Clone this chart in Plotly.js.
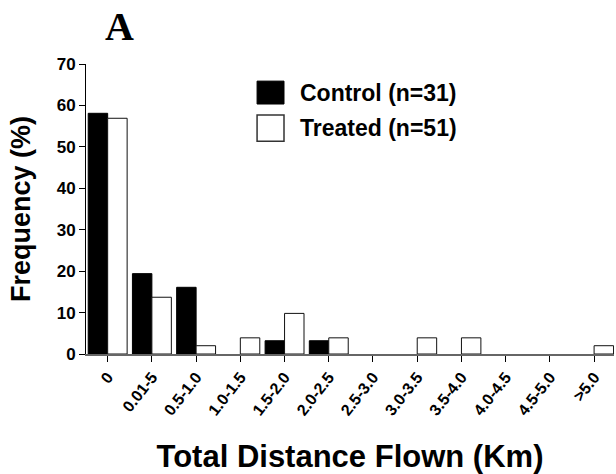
<!DOCTYPE html>
<html>
<head>
<meta charset="utf-8">
<script src="https://cdn.plot.ly/plotly-3.0.1.min.js"></script>
<style>html,body{margin:0;padding:0;background:#fff;}#chart{width:616px;height:474px;}</style>
</head>
<body>
<div id="chart"></div>
<script>
const categories = ["0", "0.01-5", "0.5-1.0", "1.0-1.5", "1.5-2.0", "2.0-2.5", "2.5-3.0", "3.0-3.5", "3.5-4.0", "4.0-4.5", "4.5-5.0", ">5.0"];
const controlValues = [58.1, 19.4, 16.1, 0, 3.2, 3.2, 0, 0, 0, 0, 0, 0];
const treatedValues = [56.9, 13.7, 2.0, 3.9, 9.8, 3.9, 0, 3.9, 3.9, 0, 0, 2.0];
const controlName = "Control (n=31)";
const treatedName = "Treated (n=51)";
const yTicks = [0, 10, 20, 30, 40, 50, 60, 70];

const font = "Liberation Sans, Arial, Helvetica, sans-serif";
// zero-height bars are not drawn in the reference
const hideZero = arr => arr.map(v => (v === 0 ? null : v));

const traces = [
  {type: "bar", name: controlName, x: categories, y: hideZero(controlValues),
   marker: {color: "#000", line: {color: "#000", width: 1}}, showlegend: false},
  {type: "bar", name: treatedName, x: categories, y: hideZero(treatedValues),
   marker: {color: "#fff", line: {color: "#111", width: 1}}, showlegend: false}
];

const layout = {
  width: 616, height: 474,
  margin: {l: 86, r: 2, t: 64, b: 120},
  paper_bgcolor: "#fff", plot_bgcolor: "#fff",
  barmode: "group", bargap: 0.12, bargroupgap: 0,
  font: {family: font, color: "#000"},
  xaxis: {
    type: "category", range: [-0.49, 11.45],
    showline: true, linecolor: "#666", linewidth: 1.5,
    ticks: "outside", ticklen: 6, tickcolor: "#000", tickwidth: 1,
    tickangle: -52, tickfont: {family: font, size: 16, weight: "bold"},
    showgrid: false, zeroline: false,
    title: {text: "Total Distance Flown (Km)", font: {family: font, size: 31, weight: "bold"}, standoff: 28}
  },
  yaxis: {
    range: [0, 70], tickvals: yTicks,
    showline: true, linecolor: "#000", linewidth: 1,
    ticks: "outside", ticklen: 6, tickcolor: "#000", tickwidth: 1,
    tickfont: {family: font, size: 17, weight: "bold"},
    showgrid: false, zeroline: false,
    title: {text: "Frequency (%)", font: {family: font, size: 27, weight: "bold"}, standoff: 18}
  },
  shapes: [
    {type: "rect", xref: "paper", yref: "paper", x0: 0.324, x1: 0.375, y0: 0.862, y1: 0.941,
     fillcolor: "#000", line: {color: "#000", width: 1}},
    {type: "rect", xref: "paper", yref: "paper", x0: 0.324, x1: 0.375, y0: 0.734, y1: 0.824,
     fillcolor: "#fff", line: {color: "#333", width: 1.5}}
  ],
  annotations: [
    {text: controlName, xref: "paper", yref: "paper", x: 0.401, y: 0.90, xanchor: "left", yanchor: "middle",
     showarrow: false, font: {family: font, size: 23, weight: "bold"}},
    {text: treatedName, xref: "paper", yref: "paper", x: 0.401, y: 0.779, xanchor: "left", yanchor: "middle",
     showarrow: false, font: {family: font, size: 23, weight: "bold"}},
    {text: "A", xref: "paper", yref: "paper", x: 0.064, y: 1.13, xanchor: "center", yanchor: "middle",
     showarrow: false, font: {family: "Liberation Serif, Times New Roman, serif", size: 40, weight: "bold"}}
  ]
};

Plotly.newPlot("chart", traces, layout, {displayModeBar: false, staticPlot: true});
</script>
</body>
</html>
